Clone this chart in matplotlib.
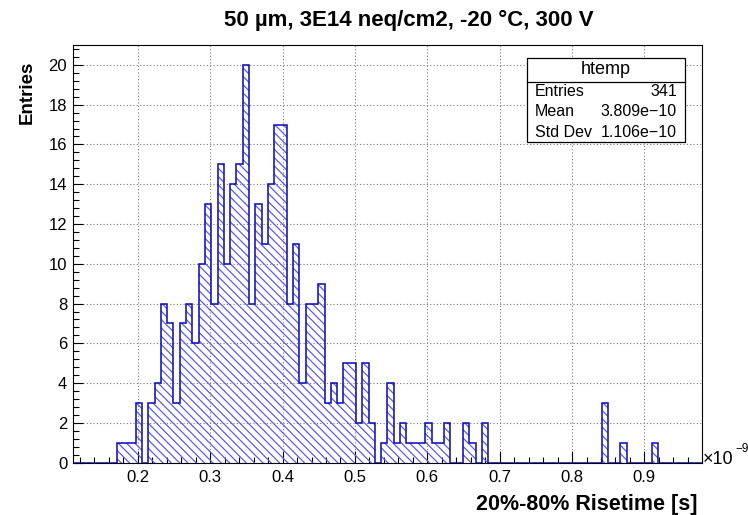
import numpy as np
import matplotlib
matplotlib.use('Agg')
import matplotlib.pyplot as plt
from matplotlib.patches import Rectangle
from matplotlib.lines import Line2D
from matplotlib.ticker import MultipleLocator

plt.rcParams['font.family'] = ['Liberation Sans', 'DejaVu Sans']
plt.rcParams['hatch.linewidth'] = 0.9

# ── Histogram content (risetime in units of 1e-9 s) ─────────────────────────
X_MIN, X_MAX, N_BINS = 0.11, 0.98, 100
COUNTS = [
    0, 0, 0, 0, 0, 0, 0, 1, 1, 1,
    3, 0, 3, 4, 8, 7, 3, 7, 8, 6,
    10, 13, 8, 15, 10, 14, 15, 20, 8, 13,
    11, 14, 17, 17, 8, 11, 4, 8, 8, 9,
    3, 4, 3, 5, 5, 2, 5, 2, 0, 1,
    4, 1, 2, 1, 1, 1, 2, 1, 1, 2,
    0, 0, 2, 1, 0, 2, 0, 0, 0, 0,
    0, 0, 0, 0, 0, 0, 0, 0, 0, 0,
    0, 0, 0, 0, 3, 0, 0, 1, 0, 0,
    0, 0, 1, 0, 0, 0, 0, 0, 0, 0,
]
Y_MAX = 21

TITLE   = "50 µm, 3E14 neq/cm2, -20 °C, 300 V"
X_TITLE = "20%-80% Risetime [s]"
Y_TITLE = "Entries"

STATS_NAME  = "htemp"
STATS_ROWS  = ["Entries", "Mean", "Std Dev"]
STATS_VALS  = ["341", "3.809e\u221210", "1.106e\u221210"]

LINE_COL  = "#1010bb"
HATCH_COL = "#5c5cf8"

W, H = 748, 515
fig = plt.figure(figsize=(W / 100, H / 100), dpi=100)

def fx(px):
    return px / W

def fy(py):
    return 1 - py / H

# frame in pixels: left, top, right, bottom
L, T, R, B = 72.7, 45.0, 702.3, 462.7
ax = fig.add_axes([fx(L), fy(B), fx(R) - fx(L), fy(T) - fy(B)])

edges = np.linspace(X_MIN, X_MAX, N_BINS + 1)
counts = np.array(COUNTS)

ax.stairs(counts, edges, fill=True, hatch='\\\\\\\\', facecolor='none',
          edgecolor=HATCH_COL, linewidth=0, zorder=2)
ax.stairs(counts, edges, color=LINE_COL, linewidth=1.15, zorder=3)

ax.set_xlim(X_MIN, X_MAX)
ax.set_ylim(0, Y_MAX)

ax.xaxis.set_major_locator(MultipleLocator(0.1))
ax.xaxis.set_minor_locator(MultipleLocator(0.02))
ax.yaxis.set_major_locator(MultipleLocator(2))
ax.yaxis.set_minor_locator(MultipleLocator(0.4))
ax.xaxis.set_major_formatter(plt.FuncFormatter(lambda v, p: f"{v:.1f}"))
ax.yaxis.set_major_formatter(plt.FuncFormatter(lambda v, p: f"{v:.0f}"))

ax.tick_params(axis='x', which='major', direction='in', length=9, width=0.8,
               labelsize=12, pad=5, top=False)
ax.tick_params(axis='x', which='minor', direction='in', length=4.5, width=0.8, top=False)
ax.tick_params(axis='y', which='major', direction='in', length=7.5, width=0.8,
               labelsize=12, pad=4, right=False)
ax.tick_params(axis='y', which='minor', direction='in', length=4, width=0.8, right=False)

ax.grid(True, which='major', color='#7a7a7a', linestyle=(0, (1, 2)), linewidth=0.8)
ax.set_axisbelow(True)
for s in ax.spines.values():
    s.set_linewidth(0.8)
    s.set_color('black')

# titles
fig.text(fx(409), fy(20), TITLE, ha='center', va='center',
         fontsize=16, fontweight='bold')
fig.text(fx(698), fy(510), X_TITLE, ha='right', va='baseline',
         fontsize=15.5, fontweight='bold')
fig.text(fx(27), fy(61), Y_TITLE, ha='center', va='top', rotation=90,
         fontsize=13.5, fontweight='bold')

# axis exponent
fig.text(fx(703), fy(464), "\u00d710", ha='left', va='baseline', fontsize=13)
fig.text(fx(735), fy(452), "\u22129", ha='left', va='baseline', fontsize=8.5)

# stats box
bx0, by0, bx1, by1, bsep = 526.7, 58.3, 685.0, 141.7, 81.7
fig.patches.append(Rectangle((fx(bx0), fy(by1)), fx(bx1) - fx(bx0), fy(by0) - fy(by1),
                             transform=fig.transFigure, facecolor='white',
                             edgecolor='black', linewidth=0.9, zorder=5))
fig.lines.append(Line2D([fx(bx0), fx(bx1)], [fy(bsep), fy(bsep)],
                        transform=fig.transFigure, color='black', linewidth=0.9, zorder=6))
fig.text(fx((bx0 + bx1) / 2), fy(70), STATS_NAME, ha='center', va='center',
         fontsize=13, zorder=7)
for i, (name, val) in enumerate(zip(STATS_ROWS, STATS_VALS)):
    yy = fy(92 + 20 * i)
    fig.text(fx(535), yy, name, ha='left', va='center', fontsize=11.5, zorder=7)
    fig.text(fx(677), yy, val, ha='right', va='center', fontsize=11.5, zorder=7)

fig.savefig('out.png', dpi=100)
